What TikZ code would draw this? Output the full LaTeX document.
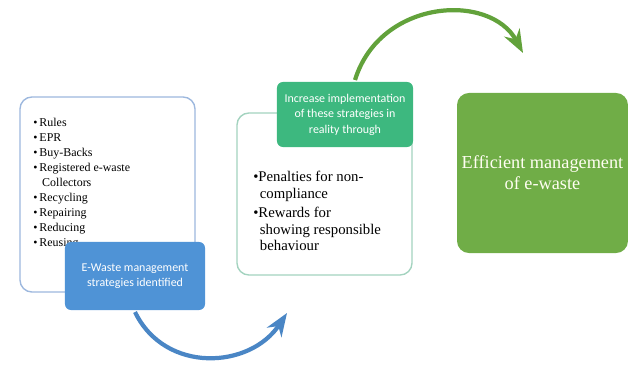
\documentclass[tikz,border=0pt]{standalone}
\usepackage{fontspec}
\setmainfont{Liberation Serif}
\newfontfamily\labelfont{Carlito}
\usetikzlibrary{arrows.meta, positioning}
\definecolor{boxblue}{HTML}{9DB8DE}
\definecolor{boxteal}{HTML}{A3D3BF}
\definecolor{labelblue}{HTML}{4F93D6}
\definecolor{labelgreen}{HTML}{3DB87F}
\definecolor{goalgreen}{HTML}{70AD47}
\definecolor{arcblue}{HTML}{4A86C5}
\definecolor{arcgreen}{HTML}{62A23B}

\begin{document}
\begin{tikzpicture}[
    x=0.025cm, y=0.025cm, >=Stealth
  ]
  \useasboundingbox (0,0) rectangle (629,364);

  \node[draw=boxblue, line width=1pt, rounded corners=0.3cm, fill=white,
        minimum width=4.375cm, minimum height=4.875cm] (strat) at (107.5,169.5) {};
  \node[anchor=north west, align=left, font=\fontsize{8.5}{10.7}\selectfont,
        inner sep=0pt] (stratlist) at (33,246)
       {\textbullet\,Rules\\
        \textbullet\,EPR\\
        \textbullet\,Buy-Backs\\
        \textbullet\,Registered e-waste\\
        \hspace{0.75em}Collectors\\
        \textbullet\,Recycling\\
        \textbullet\,Repairing\\
        \textbullet\,Reducing\\
        \textbullet\,Reusing};
  \node[fill=labelblue, rounded corners=0.15cm, minimum width=3.5cm,
        minimum height=1.7cm, align=center, text=white,
        font=\labelfont\fontsize{8.5}{11}\selectfont] (stratlbl) at (135,88)
       {E-Waste management\\strategies identified};

  \node[draw=boxteal, line width=1pt, rounded corners=0.3cm, fill=white,
        minimum width=4.375cm, minimum height=4.05cm] (impl) at (324.5,170) {};
  \node[anchor=north west, align=left, font=\fontsize{10.5}{11.8}\selectfont,
        inner sep=0pt] (impllist) at (253,193)
       {\textbullet Penalties for non-\\
        \hspace{0.45em}compliance\\[2pt]
        \textbullet Rewards for\\
        \hspace{0.45em}showing responsible\\
        \hspace{0.45em}behaviour};
  \node[fill=labelgreen, rounded corners=0.15cm, minimum width=3.4cm,
        minimum height=1.625cm, align=center, text=white,
        font=\labelfont\fontsize{8.5}{11}\selectfont] (impllbl) at (345,249.5)
       {Increase implementation\\of these strategies in\\reality through};

  \node[fill=goalgreen, rounded corners=0.3cm, minimum width=4.225cm,
        minimum height=4cm, align=center, text=white!95!yellow,
        font=\fontsize{13}{15}\selectfont] (goal) at (542.5,191)
       {Efficient management\\of e-waste};

  \coordinate (bstart) at (135,52);
  \coordinate (bend) at (287,51);
  \coordinate (gstart) at (355,284);
  \coordinate (gend) at (523,311);
  \draw[->, arcblue, line width=3pt] (bstart) .. controls (165,-10) and (250,-5) .. (bend);
  \draw[->, arcgreen, line width=3pt] (gstart) .. controls (380,365) and (490,372) .. (gend);
\end{tikzpicture}
\end{document}
